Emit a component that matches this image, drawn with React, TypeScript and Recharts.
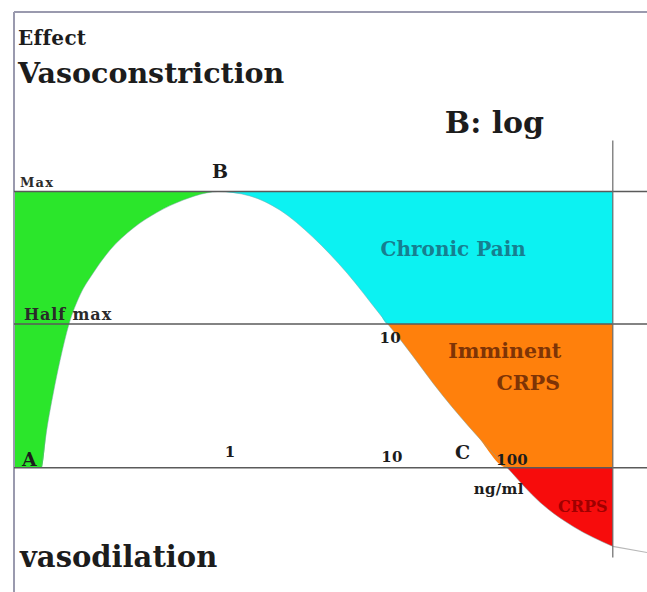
import { ComposedChart, Area, Line, Scatter, XAxis, YAxis, ReferenceLine } from 'recharts';

// --- Data (x: arbitrary log-dose units, y: effect, 0 = baseline, 100 = max) ---
const CURVE_X = [4.6, 5.45, 6.55, 7.67, 9.17, 11, 13.2, 16, 19.9, 23.8, 28.2, 32.1, 34, 39.3, 44.3, 49.8, 55.5, 61, 62.3, 64.8, 71.5, 77.2, 82.2, 87.7, 93.2, 99.8];
const CURVE_Y = [0, 13.6, 27, 38.8, 52, 62.5, 70.5, 78.8, 86.8, 92.4, 96.9, 99.5, 100, 98.4, 93.3, 83.5, 70.5, 55.5, 52, 45.2, 26, 11.5, 0, -12.6, -21.3, -28.5];
const TAIL_X = [99.8, 105.5];
const TAIL_Y = [-28.5, -30.7];

const MAX_EFFECT = 100;
const HALF_MAX = 52;
const BASELINE = 0;
const PEAK_X = 34;
const HALF_CROSS_X = 62.3;
const ZERO_CROSS_X = 82.2;
const RIGHT_X = 99.8;

const TITLES = [
    { x: 0.67, y: 153, text: 'Effect', kind: 'small' },
    { x: 0.67, y: 139.3, text: 'Vasoconstriction', kind: 'big' },
    { x: 71.8, y: 121.1, text: 'B: log', kind: 'huge' },
    { x: 1, y: -36, text: 'vasodilation', kind: 'big2' },
];

const MARKS = [
    { x: 1, y: 101.6, text: 'Max', kind: 'tiny' },
    { x: 1.67, y: 53.5, text: 'Half max', kind: 'mid' },
    { x: 33, y: 104.9, text: 'B', kind: 'letter' },
    { x: 1.33, y: 0.6, text: 'A', kind: 'letter' },
    { x: 73.5, y: 3.2, text: 'C', kind: 'letter' },
];

const TICKS = [
    { x: 36, y: 3.9, text: '1' },
    { x: 63, y: 2.1, text: '10' },
    { x: 62.7, y: 45.2, text: '10' },
    { x: 83, y: 1.0, text: '100' },
    { x: 80.8, y: -9.5, text: 'ng/ml' },
];

const ZONES = [
    { x: 73.2, y: 76.6, text: 'Chronic Pain', kind: 'chronic' },
    { x: 81.8, y: 39.7, text: 'Imminent', kind: 'imminent' },
    { x: 85.7, y: 28.2, text: 'CRPS', kind: 'imminent' },
    { x: 94.8, y: -16, text: 'CRPS', kind: 'crps' },
];

// --- styles ---
const FONT = '"DejaVu Serif", "Liberation Serif", serif';
const TEXT_STYLE: Record<string, any> = {
    small: { size: 20, color: '#1c1c1c', weight: 700, anchor: 'start', spacing: 0.3 },
    big: { size: 28.5, color: '#1c1c1c', weight: 700, anchor: 'start', spacing: 0 },
    big2: { size: 29, color: '#1c1c1c', weight: 700, anchor: 'start', spacing: 0 },
    huge: { size: 30, color: '#1c1c1c', weight: 700, anchor: 'start', spacing: 0 },
    tiny: { size: 13, color: '#2a2a2a', weight: 700, anchor: 'start', spacing: 1.2 },
    mid: { size: 16, color: '#2a2a2a', weight: 700, anchor: 'start', spacing: 0.9 },
    letter: { size: 19, color: '#1c1c1c', weight: 700, anchor: 'start', spacing: 0 },
    tick: { size: 15, color: '#1c1c1c', weight: 700, anchor: 'middle', spacing: 0.3 },
    chronic: { size: 20, color: '#167f90', weight: 700, anchor: 'middle', spacing: 0 },
    imminent: { size: 20.5, color: '#7e3406', weight: 700, anchor: 'middle', spacing: 0 },
    crps: { size: 16, color: '#a00000', weight: 700, anchor: 'middle', spacing: 0 },
};

const rows = [
    { x: 0, green: [BASELINE, MAX_EFFECT] },
    ...CURVE_X.map((x, i) => {
        const y = CURVE_Y[i];
        return {
            x,
            y,
            green: x <= PEAK_X ? [y, MAX_EFFECT] : null,
            cyan: x >= PEAK_X ? [Math.max(y, HALF_MAX), MAX_EFFECT] : null,
            orange: x >= HALF_CROSS_X ? [Math.max(y, BASELINE), HALF_MAX] : null,
            red: x >= ZERO_CROSS_X ? [y, BASELINE] : null,
            tail: x === TAIL_X[0] ? TAIL_Y[0] : null,
        };
    }),
    { x: TAIL_X[1], tail: TAIL_Y[1] },
];

function makeText(kind?: string) {
    return (props: any) => {
        const { cx, cy, payload } = props;
        const s = TEXT_STYLE[kind || payload.kind];
        return (
            <text
                x={cx}
                y={cy}
                fontFamily={FONT}
                fontSize={s.size}
                fontWeight={s.weight}
                fill={s.color}
                textAnchor={s.anchor}
                letterSpacing={s.spacing}
            >
                {payload.text}
            </text>
        );
    };
}

export default function App() {
    return (
        <div style={{ position: 'absolute', left: 0, top: 0, width: 647, height: 592, background: '#fff' }}>
            <ComposedChart width={647} height={592} data={rows} margin={{ top: 12, right: 0, left: 14, bottom: 0 }}>
                <XAxis type="number" dataKey="x" domain={[0, 105.5]} hide allowDataOverflow />
                <YAxis type="number" domain={[-45, 165]} hide allowDataOverflow />

                <Area type="monotone" dataKey="green" fill="#2be62b" fillOpacity={1} stroke="none" isAnimationActive={false} />
                <Area type="monotone" dataKey="cyan" fill="#0cf2f2" fillOpacity={1} stroke="none" isAnimationActive={false} />
                <Area type="monotone" dataKey="orange" fill="#ff800c" fillOpacity={1} stroke="none" isAnimationActive={false} />
                <Area type="monotone" dataKey="red" fill="#f70c0c" fillOpacity={1} stroke="none" isAnimationActive={false} />

                <Line type="monotone" dataKey="y" stroke="#7aa6a8" strokeOpacity={0.5} strokeWidth={1} dot={false} isAnimationActive={false} />
                <Line type="linear" dataKey="tail" stroke="#b8b8b8" strokeWidth={1.2} dot={false} isAnimationActive={false} />

                {/* frame */}
                <ReferenceLine y={165} stroke="#9a9aae" strokeWidth={2} />
                <ReferenceLine x={0} stroke="#9a9aae" strokeWidth={2} />

                <ReferenceLine y={MAX_EFFECT} stroke="#5a5a5a" strokeWidth={1.5} />
                <ReferenceLine y={HALF_MAX} stroke="#5a5a5a" strokeWidth={1.5} />
                <ReferenceLine y={BASELINE} stroke="#5a5a5a" strokeWidth={1.5} />
                <ReferenceLine segment={[{ x: RIGHT_X, y: -32.5 }, { x: RIGHT_X, y: 118.5 }]} stroke="#6a6a6a" strokeWidth={1.2} />

                <Scatter data={ZONES} dataKey="y" shape={makeText()} isAnimationActive={false} legendType="none" />
                <Scatter data={TICKS} dataKey="y" shape={makeText('tick')} isAnimationActive={false} legendType="none" />
                <Scatter data={MARKS} dataKey="y" shape={makeText()} isAnimationActive={false} legendType="none" />
                <Scatter data={TITLES} dataKey="y" shape={makeText()} isAnimationActive={false} legendType="none" />
            </ComposedChart>
        </div>
    );
}
